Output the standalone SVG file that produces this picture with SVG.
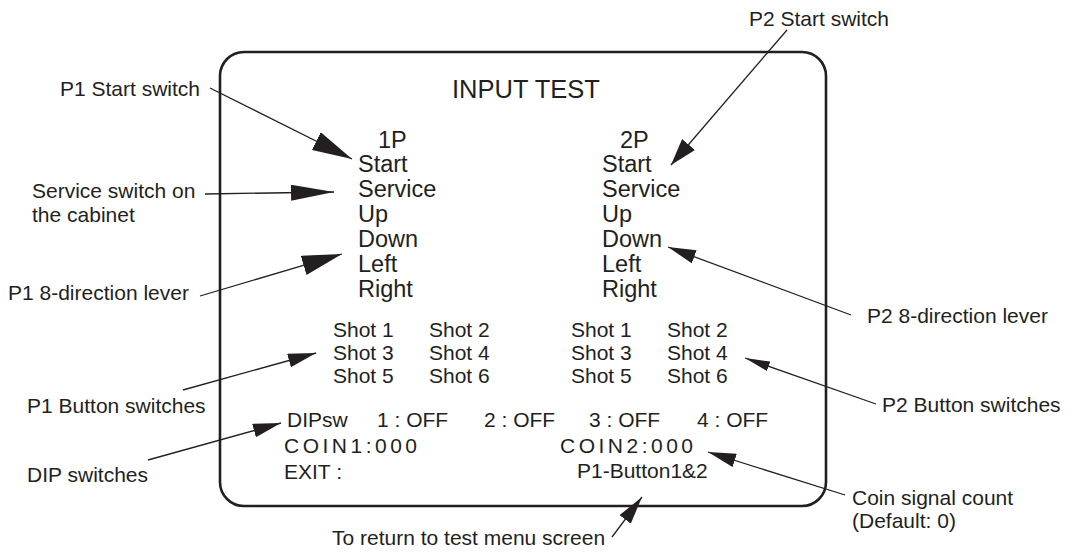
<svg xmlns="http://www.w3.org/2000/svg" width="1067" height="552" viewBox="0 0 1067 552">
<style>
text{font-family:"Liberation Sans",Arial,sans-serif;fill:#231f20}
.lbl{font-size:21px}
.big{font-size:23.5px}
.sm{font-size:21px}
.ttl{font-size:25.5px}
.coin{font-size:21px;letter-spacing:3.5px}
.ln{stroke:#231f20;stroke-width:1.3;fill:none}
</style>
<defs>
<marker id="aBig" markerUnits="userSpaceOnUse" markerWidth="40" markerHeight="20" refX="40" refY="10" orient="auto"><path d="M0,0 L40,10 L0,20 z" fill="#231f20"/></marker>
<marker id="aLong" markerUnits="userSpaceOnUse" markerWidth="43" markerHeight="16" refX="43" refY="8" orient="auto"><path d="M0,0 L43,8 L0,16 z" fill="#231f20"/></marker>
<marker id="aP2" markerUnits="userSpaceOnUse" markerWidth="27" markerHeight="17" refX="27" refY="8.5" orient="auto"><path d="M0,0 L27,8.5 L0,17 z" fill="#231f20"/></marker>
<marker id="aMid" markerUnits="userSpaceOnUse" markerWidth="28" markerHeight="14" refX="28" refY="7" orient="auto"><path d="M0,0 L28,7 L0,14 z" fill="#231f20"/></marker>
<marker id="aSm" markerUnits="userSpaceOnUse" markerWidth="25" markerHeight="10" refX="25" refY="5" orient="auto"><path d="M0,0 L25,5 L0,10 z" fill="#231f20"/></marker>
</defs>
<rect width="1067" height="552" fill="#fff"/>
<g id="screen">
<rect x="220" y="52" width="606" height="454" rx="24" ry="24" fill="none" stroke="#231f20" stroke-width="2.6"/>
<text class="ttl" x="452" y="98">INPUT TEST</text>
<text class="big" x="378" y="148">1P</text>
<text class="big" x="358" y="172">Start</text>
<text class="big" x="358" y="197">Service</text>
<text class="big" x="358" y="222">Up</text>
<text class="big" x="358" y="247">Down</text>
<text class="big" x="358" y="272">Left</text>
<text class="big" x="358" y="297">Right</text>
<text class="big" x="620" y="148">2P</text>
<text class="big" x="602" y="172">Start</text>
<text class="big" x="602" y="197">Service</text>
<text class="big" x="602" y="222">Up</text>
<text class="big" x="602" y="247">Down</text>
<text class="big" x="602" y="272">Left</text>
<text class="big" x="602" y="297">Right</text>
<text class="sm" x="333" y="337">Shot 1</text>
<text class="sm" x="429" y="337">Shot 2</text>
<text class="sm" x="333" y="360">Shot 3</text>
<text class="sm" x="429" y="360">Shot 4</text>
<text class="sm" x="333" y="383">Shot 5</text>
<text class="sm" x="429" y="383">Shot 6</text>
<text class="sm" x="571" y="337">Shot 1</text>
<text class="sm" x="667" y="337">Shot 2</text>
<text class="sm" x="571" y="360">Shot 3</text>
<text class="sm" x="667" y="360">Shot 4</text>
<text class="sm" x="571" y="383">Shot 5</text>
<text class="sm" x="667" y="383">Shot 6</text>
<text class="sm" x="287" y="427">DIPsw</text>
<text class="sm" x="377" y="427">1 : OFF</text>
<text class="sm" x="484" y="427">2 : OFF</text>
<text class="sm" x="589" y="427">3 : OFF</text>
<text class="sm" x="697" y="427">4 : OFF</text>
<text class="coin" x="284" y="453">COIN1:000</text>
<text class="coin" x="560" y="453">COIN2:000</text>
<text class="sm" x="284" y="479">EXIT :</text>
<text class="sm" x="577" y="478">P1-Button1&amp;2</text>
</g>
<g id="label-p1start"><text class="lbl" x="60" y="96">P1 Start switch</text></g>
<g id="label-service"><text class="lbl" x="32" y="198">Service switch on</text><text class="lbl" x="32" y="222">the cabinet</text></g>
<g id="label-p1lever"><text class="lbl" x="8" y="300">P1 8-direction lever</text></g>
<g id="label-p1button"><text class="lbl" x="27" y="413">P1 Button switches</text></g>
<g id="label-dip"><text class="lbl" x="27" y="482">DIP switches</text></g>
<g id="label-return"><text class="lbl" x="332" y="545">To return to test menu screen</text></g>
<g id="label-p2start"><text class="lbl" x="749" y="26">P2 Start switch</text></g>
<g id="label-p2lever"><text class="lbl" x="867" y="323">P2 8-direction lever</text></g>
<g id="label-p2button"><text class="lbl" x="882" y="412">P2 Button switches</text></g>
<g id="label-coin"><text class="lbl" x="852" y="505">Coin signal count</text><text class="lbl" x="852" y="528">(Default: 0)</text></g>
<g id="connectors">
<line class="ln" x1="210" y1="88" x2="352" y2="159" marker-end="url(#aBig)"/>
<line class="ln" x1="205" y1="194" x2="334" y2="192" marker-end="url(#aLong)"/>
<line class="ln" x1="200" y1="296" x2="342" y2="254" marker-end="url(#aBig)"/>
<line class="ln" x1="183" y1="390" x2="316" y2="353" marker-end="url(#aMid)"/>
<line class="ln" x1="148" y1="460" x2="281" y2="423" marker-end="url(#aMid)"/>
<line class="ln" x1="787" y1="30" x2="671" y2="165" marker-end="url(#aP2)"/>
<line class="ln" x1="851" y1="315" x2="668" y2="247" marker-end="url(#aMid)"/>
<line class="ln" x1="876" y1="404" x2="745" y2="358" marker-end="url(#aSm)"/>
<line class="ln" x1="845" y1="495" x2="708" y2="452" marker-end="url(#aMid)"/>
<line class="ln" x1="612" y1="537" x2="642" y2="497" marker-end="url(#aMid)"/>
</g>
</svg>
